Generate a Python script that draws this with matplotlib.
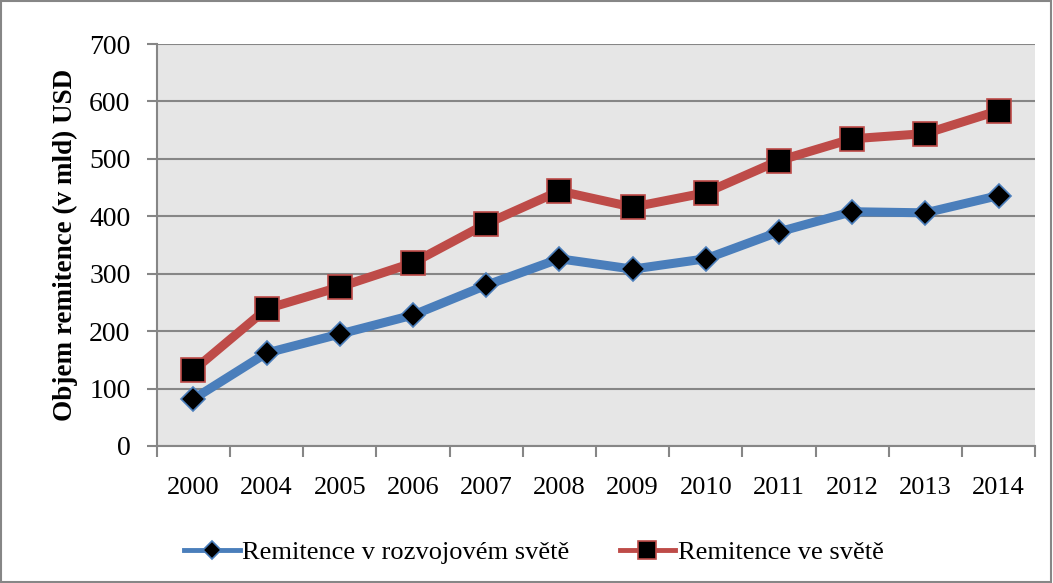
from matplotlib import pyplot as plt
from matplotlib.patches import Rectangle

years = ["2000", "2004", "2005", "2006", "2007", "2008", "2009",
         "2010", "2011", "2012", "2013", "2014"]
rozvojovy = [82, 162, 195, 228, 280, 326, 308, 326, 373, 408, 406, 436]
svet = [132, 239, 277, 319, 387, 444, 416, 441, 497, 535, 544, 584]

plt.rcParams['font.family'] = ['Liberation Serif', 'DejaVu Serif']

fig = plt.figure(figsize=(10.53, 5.83), dpi=100)
ax = fig.add_axes([0.149, 0.235, 0.834, 0.6895])
ax.set_facecolor('#E6E6E6')

grid_c = '#868686'
x = range(len(years))
ax.plot(x, rozvojovy, color='#4A7EBB', linewidth=6.5, marker='D',
        markersize=12, markerfacecolor='black', markeredgecolor='#4A7EBB',
        markeredgewidth=1.2, label='Remitence v rozvojovém světě', zorder=3)
ax.plot(x, svet, color='#BE4B48', linewidth=6.5, marker='s',
        markersize=17, markerfacecolor='black', markeredgecolor='#BE4B48',
        markeredgewidth=1.2, label='Remitence ve světě', zorder=4)

ax.set_xlim(-0.5, len(years) - 0.5)
ax.set_ylim(0, 700)
ax.set_yticks(range(0, 701, 100))
ax.yaxis.grid(True, color=grid_c, linewidth=1.5)
ax.set_axisbelow(True)

# categories sit between tick marks
ax.set_xticks([i - 0.5 for i in range(len(years) + 1)])
ax.set_xticklabels([])
ax.set_xticks(list(x), minor=True)
ax.set_xticklabels(years, minor=True)
ax.tick_params(axis='x', which='minor', length=0, labelsize=19, pad=22)
ax.tick_params(axis='x', which='major', length=8, width=1.5, color=grid_c)
ax.tick_params(axis='y', length=7, width=1.5, color=grid_c, labelsize=20, pad=12)

for s in ['top', 'right']:
    ax.spines[s].set_visible(False)
for s in ['left', 'bottom']:
    ax.spines[s].set_color(grid_c)
    ax.spines[s].set_linewidth(1.5)

ax.set_ylabel('Objem remitence (v mld) USD', fontsize=19.5, fontweight='bold', labelpad=8)

leg = fig.legend(loc='center', bbox_to_anchor=(0.507, 0.053), ncol=2, frameon=False,
                 fontsize=19, handlelength=2.1, handletextpad=0.1, columnspacing=1.9,
                 markerscale=0.75)
for h in leg.legend_handles:
    h.set_linewidth(3.5)

fig.patches.append(Rectangle((0.001, 0.002), 0.997, 0.996, transform=fig.transFigure,
                             fill=False, edgecolor='#868686', linewidth=1.5))

plt.savefig('out.png', dpi=100)
